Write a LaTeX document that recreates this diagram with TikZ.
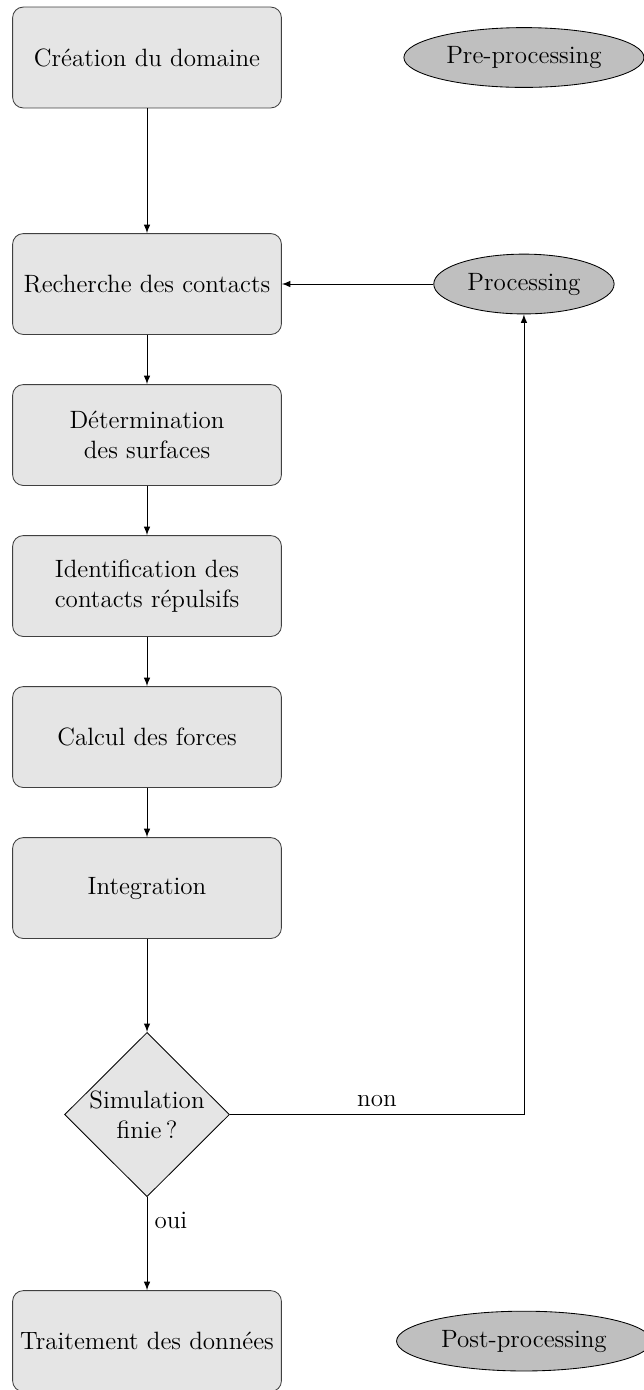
\documentclass[tikz,border=0pt]{standalone}
\usepackage{tikz}
\usetikzlibrary{shapes.geometric}

\tikzset{
    etape/.style={draw=black!75, fill=gray!20, rounded corners=5pt,
        minimum width=4.45cm, minimum height=1.67cm, align=center},
    phase/.style={ellipse, draw, fill=gray!50, inner xsep=0.12cm,
        minimum height=0.99cm},
    test/.style={diamond, draw, fill=gray!20, aspect=1, inner sep=0pt,
        minimum width=2.73cm, minimum height=2.72cm, align=center},
    fleche/.style={-latex}
}

\begin{document}
\begin{tikzpicture}[every node/.style={font=\fontsize{11.8}{14.1}\selectfont}]
    \useasboundingbox (-2.434,0.952) rectangle (8.212,-22.06);
    % chaine principale
    \node[etape] (creation) at (0,0) {Cr\'eation du domaine};
    \node[etape] (recherche) at (0,-3.75) {Recherche des contacts};
    \node[etape] (surfaces) at (0,-6.25) {D\'etermination\\des surfaces};
    \node[etape] (repulsifs) at (0,-8.75) {Identification des\\contacts r\'epulsifs};
    \node[etape] (forces) at (0,-11.25) {Calcul des forces};
    \node[etape] (integration) at (0,-13.75) {Integration};
    \node[test] (finie) at (0,-17.5) {Simulation\\finie\,?};
    \node[etape] (traitement) at (0,-21.25) {Traitement des donn\'ees};
    % phases
    \node[phase] (pre) at (6.24,0) {Pre-processing};
    \node[phase] (proc) at (6.24,-3.75) {Processing};
    \node[phase] (post) at (6.24,-21.25) {Post-processing};
    % fleches
    \draw[fleche] (creation) -- (recherche);
    \draw[fleche] (proc) -- (recherche);
    \draw[fleche] (recherche) -- (surfaces);
    \draw[fleche] (surfaces) -- (repulsifs);
    \draw[fleche] (repulsifs) -- (forces);
    \draw[fleche] (forces) -- (integration);
    \draw[fleche] (integration) -- (finie);
    \draw[fleche] (finie) -- node[near start, right] {oui} (traitement);
    \draw[fleche] (finie.east) -| node[pos=0.25, above] {non} (proc.south);
\end{tikzpicture}
\end{document}
